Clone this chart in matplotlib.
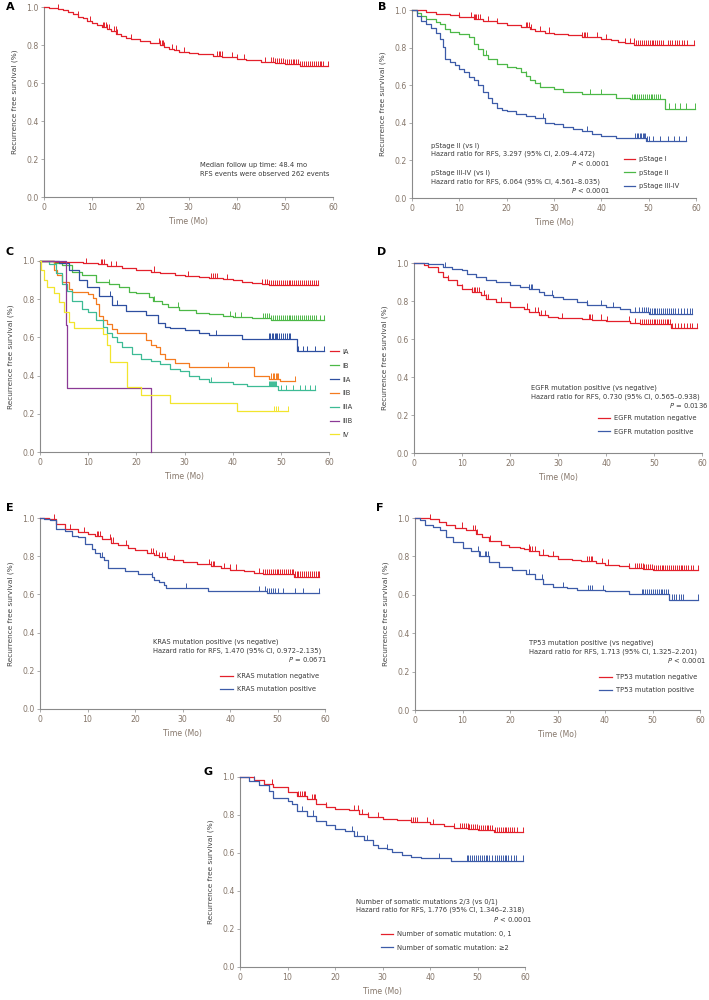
import numpy as np
import matplotlib
matplotlib.use("Agg")
import matplotlib.pyplot as plt

# ---- data (time in months, survival fraction) ----
# A: all patients
a_t = [0, 1, 3, 4, 5, 6, 7, 8, 9, 10, 11, 12, 13, 14, 15, 16, 17, 18, 20, 22, 24, 25, 26, 27, 28, 30, 32, 35, 37, 40, 42, 45, 48, 50, 53.2]
a_s = [1.0, 0.995, 0.99, 0.982, 0.975, 0.962, 0.95, 0.94, 0.928, 0.916, 0.905, 0.895, 0.885, 0.872, 0.858, 0.848, 0.838, 0.83, 0.82,
       0.812, 0.80, 0.79, 0.78, 0.772, 0.765, 0.758, 0.752, 0.744, 0.738, 0.727, 0.72, 0.71, 0.704, 0.70, 0.69]
a_c = [3, 7, 9.5, 12.2, 12.5, 12.8, 13.1, 13.4, 14.6, 14.9, 15.2, 18, 23.8, 24.1, 24.4, 24.7, 25, 26.5, 27.5, 29, 36, 36.3, 36.6, 36.9,
       39, 40, 41.5, 45.8, 47.2, 47.6, 48.0, 48.4, 48.8, 49.2, 49.6, 50.0, 50.4, 50.8, 51.2, 51.6, 52.0, 52.4, 52.8, 53.2, 53.6, 54.0,
       54.4, 54.8, 55.2, 55.6, 56.0, 56.4, 56.8, 57.2, 57.6, 58.0, 59]

# B: pathological stage
b1_t = [0, 3, 5, 8, 10, 13, 15, 18, 20, 23, 25, 26, 28, 30, 33, 36, 40, 42, 43.5, 45, 47, 48]
b1_s = [1.0, 0.99, 0.98, 0.972, 0.962, 0.95, 0.94, 0.93, 0.92, 0.91, 0.90, 0.89, 0.88, 0.872, 0.866, 0.857, 0.848, 0.84, 0.83, 0.822, 0.816, 0.813]
b1_c = [10, 12.5, 13, 13.3, 13.6, 14, 14.4, 16, 18, 24, 24.4, 24.8, 25.2, 27, 29, 36, 36.3, 36.6, 37, 39, 41, 45, 46, 46.8, 47.4,
        47.8, 48.2, 48.6, 49.0, 49.4, 49.8, 50.2, 50.6, 51.0, 51.4, 51.8, 52.2, 52.6, 53.0, 54, 54.5, 55, 55.5, 56, 56.5, 57, 57.5, 58, 59.5]
b2_t = [0, 1, 2, 3, 5, 6, 7, 8, 10, 12, 13, 14, 15, 16, 18, 20, 22, 23, 24, 25, 26, 27, 30, 32, 36, 43, 46, 53.5]
b2_s = [1.0, 0.985, 0.967, 0.953, 0.936, 0.923, 0.897, 0.885, 0.871, 0.854, 0.819, 0.793, 0.758, 0.74, 0.714, 0.697, 0.692, 0.671,
        0.65, 0.627, 0.61, 0.592, 0.58, 0.566, 0.552, 0.531, 0.526, 0.476]
b2_c = [15.6, 24, 27, 37.5, 39.9, 46.4, 46.8, 47.2, 47.6, 48.0, 48.4, 48.8, 49.2, 49.6, 50.0, 50.4, 50.8, 51.2, 51.6, 52.0, 52.4,
        54.2, 55.5, 56.7, 57.9, 59.8]
b3_t = [0, 1, 2, 3, 4, 5, 6, 6.5, 7, 8, 9, 10, 11, 12, 13, 14, 15, 16, 17, 18, 19, 20, 22, 24, 26, 28, 30, 32, 34, 36, 38, 40, 43, 49.5]
b3_s = [1.0, 0.967, 0.941, 0.923, 0.906, 0.88, 0.845, 0.801, 0.74, 0.723, 0.706, 0.688, 0.671, 0.645, 0.627, 0.601, 0.566, 0.531,
        0.505, 0.479, 0.47, 0.462, 0.448, 0.436, 0.423, 0.401, 0.392, 0.378, 0.366, 0.354, 0.34, 0.331, 0.319, 0.301]
b3_c = [3, 27.7, 36.9, 47.2, 47.5, 47.8, 48.1, 48.4, 48.7, 49, 49.3, 49.6, 50, 51, 52.4, 54, 55.3, 56.5, 57.8]

# C: stage subgroups
c_labels = ["IA", "IB", "IIA", "IIB", "IIIA", "IIIB", "IV"]
ia_t = [0, 3, 6, 9, 12, 14, 17, 20, 23, 25, 28, 30, 33, 35, 38, 40, 42, 44, 46, 47.5]
ia_s = [1.0, 0.997, 0.994, 0.99, 0.982, 0.975, 0.965, 0.955, 0.945, 0.937, 0.928, 0.922, 0.916, 0.91, 0.904, 0.898, 0.892, 0.886, 0.88, 0.872]
ia_c = [9.5, 12.6, 12.9, 13.2, 14.7, 15.7, 23.7, 30.8, 35.6, 36, 36.4, 36.8, 38.8, 46, 46.8, 47.2, 47.6, 48.0, 48.4, 48.8, 49.2,
        49.6, 50.0, 50.4, 50.8, 51.2, 51.6, 52.0, 52.4, 52.8, 53.2, 53.6, 54.0, 54.4, 54.8, 55.2, 55.6, 56.0, 56.4, 56.8, 57.2, 57.8]
ib_t = [0, 3, 4.6, 6.7, 8.8, 11.6, 14.3, 16.4, 18.5, 20, 22.6, 23.5, 25.4, 26.5, 28.9, 32.3, 35, 38, 40, 44, 48]
ib_s = [1.0, 0.99, 0.98, 0.945, 0.927, 0.89, 0.88, 0.864, 0.836, 0.83, 0.81, 0.79, 0.773, 0.76, 0.745, 0.727, 0.722, 0.712, 0.708, 0.70, 0.69]
ib_c = [14.3, 23.7, 28.7, 39.4, 40.5, 41.7, 46.4, 46.8, 47.2, 47.6, 48.0, 48.4, 48.8, 49.2, 49.6, 50.0, 50.4, 50.8, 51.2, 51.6,
        52.0, 52.4, 52.8, 53.2, 53.6, 54.0, 54.4, 54.8, 55.2, 55.6, 56.0, 56.4, 56.8, 57.2, 58.1, 59]
iia_t = [0, 4, 6, 8.1, 9.8, 12.2, 15, 17.8, 22, 24.4, 26, 27, 30, 33, 35, 42, 53.3]
iia_s = [1.0, 0.99, 0.955, 0.9, 0.864, 0.818, 0.77, 0.736, 0.718, 0.673, 0.655, 0.648, 0.638, 0.625, 0.611, 0.594, 0.527]
iia_c = [14.5, 16, 36.5, 47.5, 47.8, 48.1, 48.4, 48.7, 49, 49.3, 49.6, 50, 50.4, 50.8, 51.2, 51.6, 52, 53.5, 54.5, 55.5, 57, 59]
iib_t = [0, 2.9, 3.6, 4.6, 6, 6.7, 10, 11, 11.6, 12.3, 13, 14, 15, 16, 22, 23, 24, 25, 26, 28, 31, 44.5, 47.5, 49.8]
iib_s = [1.0, 0.955, 0.927, 0.89, 0.855, 0.836, 0.827, 0.804, 0.773, 0.71, 0.69, 0.672, 0.646, 0.625, 0.585, 0.559, 0.55, 0.515,
         0.489, 0.468, 0.445, 0.40, 0.384, 0.372]
iib_c = [39, 48, 48.3, 48.6, 48.9, 49.2, 49.5, 53]
iiia_t = [0, 1.9, 3.3, 4.6, 5.7, 6.7, 8.8, 10, 11.6, 13, 14, 15, 16, 17, 19, 21, 23, 25, 27, 29, 31, 33, 35, 40, 43, 49.5]
iiia_s = [1.0, 0.985, 0.936, 0.88, 0.845, 0.79, 0.75, 0.735, 0.69, 0.655, 0.625, 0.603, 0.576, 0.55, 0.515, 0.489, 0.475, 0.463,
          0.437, 0.423, 0.40, 0.381, 0.367, 0.358, 0.346, 0.323]
iiia_c = [35.5, 47.5, 47.7, 47.9, 48.1, 48.3, 48.5, 48.7, 48.9, 50, 51, 52.5, 54, 55, 56, 57]
iiib_t = [0, 5.4, 5.7, 23]
iiib_s = [1.0, 0.667, 0.333, 0.0]
iiib_c = []
iv_t = [0, 0.3, 0.8, 1.5, 3, 4, 5, 6, 7, 13, 14, 14.5, 18, 21, 27, 41]
iv_s = [1.0, 0.955, 0.9, 0.865, 0.83, 0.786, 0.734, 0.68, 0.65, 0.62, 0.559, 0.472, 0.34, 0.297, 0.257, 0.213]
iv_c = [48.5, 49, 49.5, 51.5]

# D: EGFR
d_neg_t = [0, 2, 3, 5, 6, 7, 9, 10, 12, 14, 15, 17, 20, 23, 24, 26, 28, 30, 35, 37, 40, 45, 47, 53.5]
d_neg_s = [1.0, 0.99, 0.978, 0.952, 0.926, 0.908, 0.882, 0.865, 0.847, 0.83, 0.812, 0.795, 0.769, 0.76, 0.742, 0.725, 0.716,
           0.711, 0.707, 0.702, 0.693, 0.686, 0.678, 0.659]
d_neg_c = [7, 10, 12, 12.4, 12.8, 13.2, 13.6, 14.5, 15, 15.5, 18.1, 23.5, 25.2, 25.8, 26.5, 27.3, 30.8, 36.4, 36.7, 37.1, 38.9,
           40.2, 44.8, 46.1, 47.1, 47.5, 47.9, 48.3, 48.7, 49.1, 49.5, 49.9, 50.3, 50.7, 51.1, 51.5, 51.9, 52.3, 52.7, 53.0,
           53.4, 53.8, 54.4, 55, 55.6, 56.2, 56.8, 57.4, 58, 59]
d_pos_t = [0, 3, 6, 8, 10, 11, 13, 15, 17, 20, 22, 24, 26, 27, 29, 31, 34, 36, 40, 43, 45, 49]
d_pos_s = [1.0, 0.995, 0.98, 0.97, 0.962, 0.943, 0.926, 0.908, 0.9, 0.886, 0.873, 0.861, 0.847, 0.83, 0.821, 0.812, 0.795, 0.777,
           0.769, 0.76, 0.742, 0.734]
d_pos_c = [6.4, 24, 24.3, 24.6, 28.7, 36, 38.9, 41.4, 46.1, 46.8, 47.5, 47.9, 48.3, 48.7, 49.1, 49.5, 49.9, 50.3, 50.7, 51.1,
           51.5, 51.9, 52.3, 52.7, 53.1, 53.5, 53.9, 54.4, 55, 55.6, 56.2, 56.8, 57.4, 58]

# E: KRAS
e_neg_t = [0, 1.9, 3.3, 5.3, 8.1, 10, 11.6, 13, 15, 16.5, 18.5, 20, 22.6, 24, 25, 26.8, 28, 30, 33, 36, 38, 40, 43, 45, 47, 53.5]
e_neg_s = [1.0, 0.993, 0.97, 0.943, 0.925, 0.915, 0.904, 0.89, 0.871, 0.858, 0.845, 0.832, 0.818, 0.807, 0.795, 0.785, 0.778,
           0.768, 0.758, 0.748, 0.738, 0.73, 0.72, 0.712, 0.705, 0.693]
e_neg_c = [2.9, 6.4, 9.3, 11.9, 12.2, 12.6, 14.7, 15, 15.4, 18.1, 23.3, 23.8, 24.4, 25, 25.7, 26.4, 28.2, 35.6, 36, 36.4, 36.7,
           38.8, 40, 41.2, 46, 47, 47.4, 47.8, 48.2, 48.6, 49, 49.4, 49.8, 50.2, 50.6, 51, 51.4, 51.8, 52.2, 52.6, 53, 53.3,
           53.6, 54, 54.4, 54.8, 55.2, 55.6, 56, 56.4, 56.8, 57.2, 57.6, 58, 58.5, 58.8]
e_pos_t = [0, 0.8, 2.2, 3.3, 5.3, 6.7, 8.1, 9.5, 10.9, 11.6, 12.6, 13.5, 14.3, 17.8, 20.6, 23.5, 24, 25, 26, 26.5, 35.3, 47.8]
e_pos_s = [1.0, 0.996, 0.988, 0.943, 0.934, 0.907, 0.898, 0.862, 0.836, 0.815, 0.797, 0.78, 0.737, 0.722, 0.705, 0.69, 0.675,
           0.663, 0.649, 0.635, 0.619, 0.605]
e_pos_c = [13.1, 23.5, 30.8, 46, 47.4, 47.8, 48.2, 48.6, 49, 49.5, 50.2, 51.2, 53.6, 55.4, 58.8]

# F: TP53
f_neg_t = [0, 3.1, 5, 6.6, 8.5, 10.8, 12.9, 14, 15.6, 18, 19.8, 22, 23, 24, 26, 28, 30, 33, 35, 38, 40, 43, 45, 48, 50]
f_neg_s = [1.0, 0.996, 0.98, 0.964, 0.95, 0.936, 0.918, 0.90, 0.882, 0.861, 0.848, 0.843, 0.837, 0.826, 0.809, 0.80, 0.788,
           0.783, 0.774, 0.765, 0.757, 0.75, 0.739, 0.736, 0.727]
f_neg_c = [3.1, 9.8, 12.3, 12.7, 13, 15.8, 23.9, 24.3, 24.7, 25.3, 27, 29.1, 36.3, 36.6, 37, 37.3, 39.4, 40.7, 45.1, 46.3, 46.7,
           47.1, 47.5, 47.9, 48.3, 48.7, 49.1, 49.5, 49.9, 50.3, 50.7, 51.1, 51.5, 51.9, 52.3, 52.7, 53.1, 53.5, 53.9, 54.3,
           54.7, 55.1, 55.5, 55.9, 56.3, 56.7, 57.1, 57.5, 58, 58.6, 59.6]
f_pos_t = [0, 1, 2.1, 3.8, 5.2, 6.6, 8, 10, 11.8, 13.5, 15.6, 17.7, 20.5, 23.3, 25.3, 27, 29, 32, 34, 40, 45, 53.5]
f_pos_s = [1.0, 0.99, 0.964, 0.955, 0.936, 0.90, 0.873, 0.845, 0.827, 0.80, 0.773, 0.745, 0.727, 0.709, 0.68, 0.655, 0.64,
           0.635, 0.623, 0.619, 0.605, 0.575]
f_pos_c = [13.3, 13.7, 14.7, 15, 15.4, 23.9, 26.8, 31.2, 36.5, 36.9, 37.3, 39.6, 47.7, 48.1, 48.5, 48.9, 49.3, 49.7, 50.1,
           50.5, 50.9, 51.3, 51.7, 52.1, 52.5, 52.9, 53.3, 54, 54.5, 55, 55.5, 56, 56.5, 59.6]

# G: number of somatic mutations
g_lo_t = [0, 3, 5, 7, 10, 12, 14, 16, 18, 20, 23, 25, 27, 30, 33, 36, 40, 43, 45, 48, 50, 53.5]
g_lo_s = [1.0, 0.985, 0.964, 0.947, 0.922, 0.90, 0.883, 0.86, 0.843, 0.831, 0.826, 0.805, 0.791, 0.779, 0.774, 0.762, 0.753,
          0.74, 0.733, 0.728, 0.722, 0.71]
g_lo_c = [6.8, 10, 12.3, 12.7, 13.1, 13.4, 13.7, 15.1, 15.5, 15.8, 18.2, 23.9, 24.9, 25.6, 27, 29.1, 36.1, 36.4, 36.8, 37.2,
          39.4, 40.7, 45.1, 46.3, 46.7, 47.1, 47.5, 47.9, 48.3, 48.7, 49.1, 49.5, 49.9, 50.3, 50.7, 51.1, 51.5, 51.9, 52.3,
          52.7, 53, 53.7, 54.1, 54.5, 54.9, 55.3, 55.7, 56.1, 56.5, 56.9, 57.3, 57.7, 58.3, 59.6]
g_hi_t = [0, 2, 4, 6, 7, 9, 10, 11, 12, 14, 16, 18, 20, 22, 24, 26, 28, 29, 31, 32, 34, 36, 38, 44.5]
g_hi_s = [1.0, 0.978, 0.957, 0.926, 0.891, 0.888, 0.874, 0.857, 0.822, 0.797, 0.771, 0.745, 0.728, 0.716, 0.688, 0.667, 0.641,
          0.624, 0.619, 0.607, 0.59, 0.578, 0.572, 0.56]
g_hi_c = [3, 13, 15.3, 23.5, 24, 24.6, 26.7, 31, 41.9, 47.7, 48.1, 48.5, 48.9, 49.3, 49.7, 50.1, 50.5, 50.9, 51.3, 51.7, 52.1,
          52.5, 53, 53.7, 54.1, 54.5, 54.9, 55.3, 55.7, 56.1, 56.5, 57, 57.6, 58.2, 59.6]

RED = "#e3202b"
GREEN = "#4cb847"
BLUE = "#3c5ba8"
C_COLORS = ["#e3202b", "#4cb847", "#2e4fa0", "#f47b20", "#3dbb95", "#8b3a96", "#f2e52d"]
TICKCOL = "#85766a"
TXT = "#3a3a3a"
FS = 4.9


def km(ax, t, s, cens, color, label=None):
    t = np.asarray(t, float)
    s = np.asarray(s, float)
    end = max([t[-1]] + list(cens))
    ax.step(np.append(t, end), np.append(s, s[-1]), where="post", color=color, lw=0.9,
            label=label, clip_on=False, zorder=3)
    if len(cens):
        c = np.asarray(cens, float)
        cs = s[np.searchsorted(t, c, side="right") - 1]
        ax.vlines(c, cs, cs + 0.027, color=color, lw=0.7, clip_on=False, zorder=3)


def style(ax, letter, lx, ly):
    ax.set_xlim(0, 60)
    ax.set_ylim(0, 1.0)
    ax.set_xticks(range(0, 61, 10))
    ax.set_yticks(np.arange(0, 1.01, 0.2))
    ax.set_yticklabels([f"{v:.1f}" for v in np.arange(0, 1.01, 0.2)])
    for side in ["top", "right"]:
        ax.spines[side].set_visible(False)
    for side in ["left", "bottom"]:
        ax.spines[side].set_color("#8a8a8a")
        ax.spines[side].set_linewidth(0.8)
    ax.tick_params(direction="out", length=2, width=0.5, color="#8a8a8a",
                   labelsize=5.6, labelcolor=TICKCOL, pad=2)
    ax.set_xlabel("Time (Mo)", fontsize=5.6, color=TICKCOL, labelpad=4)
    ax.set_ylabel("Recurrence free survival (%)", fontsize=5.3, color="#444444", labelpad=6)
    fig.text(lx / 709, 1 - ly / 1000, letter, fontsize=8, fontweight="bold", ha="center", va="center")


def legend(ax, x, y, ncol_len=1.8, spacing=1.05, pad=0.6, fs=FS):
    ax.legend(loc="upper left", bbox_to_anchor=(x, y), frameon=False, fontsize=fs,
              handlelength=ncol_len, handletextpad=pad, labelspacing=spacing,
              borderpad=0, borderaxespad=0, labelcolor=TXT)


def hr_text(ax, x, y, line1, line2, ptxt, px):
    ax.text(x, y, line1, fontsize=FS, color=TXT, va="center")
    ax.text(x, y - 0.046, line2, fontsize=FS, color=TXT, va="center")
    ax.text(px, y - 0.093, ptxt, fontsize=FS, color=TXT, va="center", ha="right")


fig = plt.figure(figsize=(7.09, 10), dpi=100)

# A
ax = fig.add_axes([44 / 709, 1 - 197 / 1000, 289 / 709, 0.19])
km(ax, a_t, a_s, a_c, RED)
style(ax, "A", 10, 7)
ax.text(32.3, 0.17, "Median follow up time: 48.4 mo", fontsize=FS, color=TXT, va="center")
ax.text(32.3, 0.121, "RFS events were observed 262 events", fontsize=FS, color=TXT, va="center")

# B
ax = fig.add_axes([412 / 709, 1 - 198 / 1000, 284 / 709, 0.188])
km(ax, b1_t, b1_s, b1_c, RED, "pStage I")
km(ax, b2_t, b2_s, b2_c, GREEN, "pStage II")
km(ax, b3_t, b3_s, b3_c, BLUE, "pStage III-IV")
style(ax, "B", 382, 7)
hr_text(ax, 4, 0.279, "pStage II (vs I)", "Hazard ratio for RFS, 3.297 (95% CI, 2.09\u20134.472)", "$\\it{P}$ < 0.0001", 41.8)
hr_text(ax, 4, 0.134, "pStage III-IV (vs I)", "Hazard ratio for RFS, 6.064 (95% CI, 4.561\u20138.035)", "$\\it{P}$ < 0.0001", 41.8)
legend(ax, 0.745, 0.222, ncol_len=1.7, spacing=1.1)

# C
ax = fig.add_axes([40 / 709, 1 - 452 / 1000, 289 / 709, 0.191])
c_series = [(ia_t, ia_s, ia_c), (ib_t, ib_s, ib_c), (iia_t, iia_s, iia_c), (iib_t, iib_s, iib_c),
            (iiia_t, iiia_s, iiia_c), (iiib_t, iiib_s, iiib_c), (iv_t, iv_s, iv_c)]
for (t, s, c), col, lab in zip(c_series, C_COLORS, c_labels):
    km(ax, t, s, c, col, lab)
style(ax, "C", 10, 252)
legend(ax, 1.005, 0.54, ncol_len=1.2, spacing=1.15, pad=0.5)

# D
ax = fig.add_axes([414 / 709, 1 - 453 / 1000, 288 / 709, 0.19])
km(ax, d_neg_t, d_neg_s, d_neg_c, RED, "EGFR mutation negative")
km(ax, d_pos_t, d_pos_s, d_pos_c, BLUE, "EGFR mutation positive")
style(ax, "D", 382, 252)
hr_text(ax, 24.4, 0.341, "EGFR mutation positive (vs negative)",
        "Hazard ratio for RFS, 0.730 (95% CI, 0.565\u20130.938)", "$\\it{P}$ = 0.0136", 61.4)
legend(ax, 0.638, 0.198)

# E
ax = fig.add_axes([40 / 709, 1 - 709 / 1000, 285 / 709, 0.191])
km(ax, e_neg_t, e_neg_s, e_neg_c, RED, "KRAS mutation negative")
km(ax, e_pos_t, e_pos_s, e_pos_c, BLUE, "KRAS mutation positive")
style(ax, "E", 10, 508)
hr_text(ax, 23.7, 0.35, "KRAS mutation positive (vs negative)",
        "Hazard ratio for RFS, 1.470 (95% CI, 0.972\u20132.135)", "$\\it{P}$ = 0.0671", 60.4)
legend(ax, 0.633, 0.187)

# F
ax = fig.add_axes([415 / 709, 1 - 710 / 1000, 285 / 709, 0.192])
km(ax, f_neg_t, f_neg_s, f_neg_c, RED, "TP53 mutation negative")
km(ax, f_pos_t, f_pos_s, f_pos_c, BLUE, "TP53 mutation positive")
style(ax, "F", 380, 508)
hr_text(ax, 24.0, 0.35, "TP53 mutation positive (vs negative)",
        "Hazard ratio for RFS, 1.713 (95% CI, 1.325\u20132.201)", "$\\it{P}$ < 0.0001", 61.2)
legend(ax, 0.647, 0.187)

# G
ax = fig.add_axes([240 / 709, 1 - 967 / 1000, 285 / 709, 0.19])
km(ax, g_lo_t, g_lo_s, g_lo_c, RED, "Number of somatic mutation: 0, 1")
km(ax, g_hi_t, g_hi_s, g_hi_c, BLUE, "Number of somatic mutation: \u22652")
style(ax, "G", 208, 772)
hr_text(ax, 24.4, 0.345, "Number of somatic mutations 2/3 (vs 0/1)",
        "Hazard ratio for RFS, 1.776 (95% CI, 1.346\u20132.318)", "$\\it{P}$ < 0.0001", 61.4)
legend(ax, 0.495, 0.187)

fig.savefig("out.png", dpi=100)
